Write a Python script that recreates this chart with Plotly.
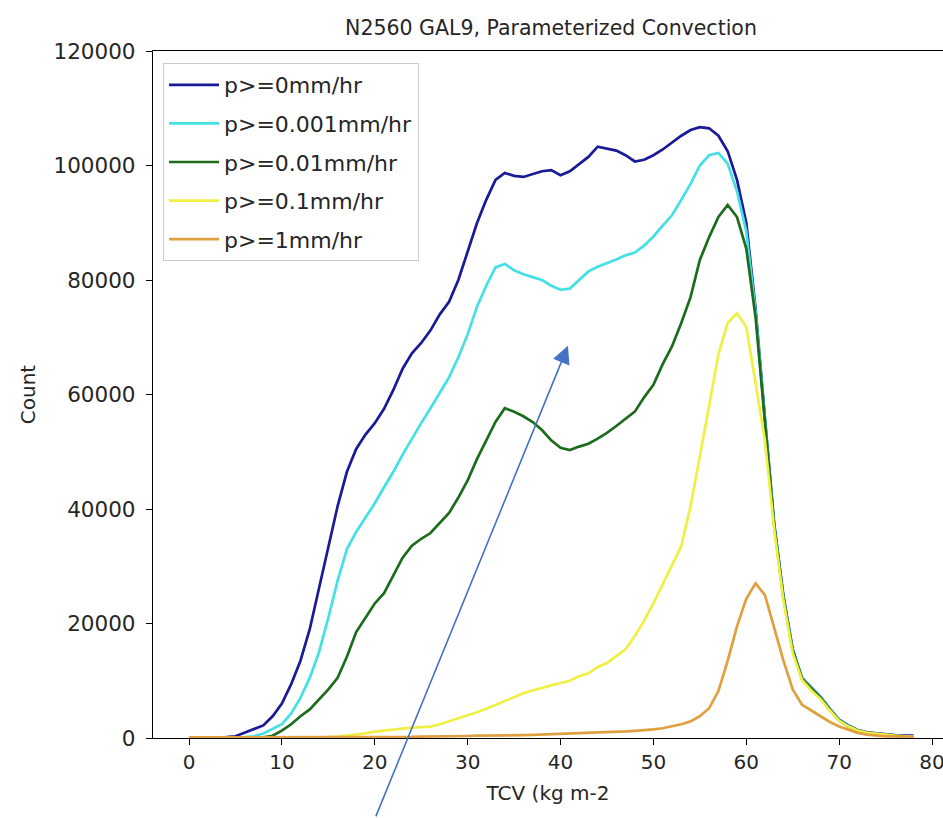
import plotly.graph_objects as go

tcv = [0, 1, 2, 3, 4, 5, 6, 7, 8, 9, 10, 11, 12, 13, 14, 15, 16, 17, 18, 19,
       20, 21, 22, 23, 24, 25, 26, 27, 28, 29, 30, 31, 32, 33, 34, 35, 36, 37, 38, 39,
       40, 41, 42, 43, 44, 45, 46, 47, 48, 49, 50, 51, 52, 53, 54, 55, 56, 57, 58, 59,
       60, 61, 62, 63, 64, 65, 66, 67, 68, 69, 70, 71, 72, 73, 74, 75, 76, 77, 78]

count_p0 = [100, 100, 100, 100, 150, 300, 900, 1600, 2200, 3800,
            6000, 9400, 13500, 19000, 26300, 33500, 40500, 46500, 50500, 53000,
            55000, 57500, 60800, 64500, 67200, 69000, 71200, 74000, 76200, 80000,
            85000, 89900, 94000, 97500, 98700, 98200, 98000, 98500, 99000, 99200,
            98300, 99000, 100200, 101500, 103300, 103000, 102600, 101800, 100700, 101000,
            101800, 102800, 104000, 105200, 106200, 106700, 106500, 105200, 102500, 97500,
            90000, 75000, 56000, 37500, 24800, 15500, 10500, 8800, 7200, 5100,
            3200, 2200, 1400, 1000, 800, 600, 500, 400, 400]

count_p0001 = [100, 100, 100, 100, 100, 100, 150, 300, 800, 1600,
               2400, 4300, 7000, 10500, 15000, 21000, 27500, 33000, 36000, 38500,
               41000, 43800, 46500, 49500, 52300, 55000, 57600, 60200, 63000, 66500,
               70500, 75300, 79000, 82200, 82800, 81700, 81000, 80500, 80000, 79000,
               78300, 78500, 80000, 81500, 82300, 82900, 83600, 84300, 84800, 86000,
               87600, 89500, 91300, 94000, 96800, 100000, 101800, 102200, 100300, 95500,
               88500, 74500, 55800, 37300, 24600, 15300, 10400, 8700, 7100, 5000,
               3100, 2100, 1300, 900, 700, 500, 400, 300, 300]

count_p001 = [100, 100, 100, 100, 100, 100, 100, 100, 100, 400,
              1300, 2400, 3800, 5000, 6800, 8500, 10500, 14200, 18500, 21000,
              23500, 25300, 28500, 31500, 33600, 34800, 35800, 37500, 39300, 42000,
              45000, 48700, 52000, 55200, 57600, 57000, 56200, 55200, 53800, 52000,
              50700, 50300, 50900, 51400, 52300, 53300, 54500, 55800, 57000, 59500,
              61700, 65300, 68400, 72500, 77000, 83500, 87500, 91000, 93100, 91000,
              85500, 73500, 55500, 37200, 24500, 15200, 10300, 8600, 7000, 4900,
              3000, 2000, 1300, 900, 700, 500, 400, 300, 300]

count_p01 = [100, 100, 100, 100, 100, 100, 100, 100, 100, 100,
             100, 100, 100, 100, 100, 150, 250, 400, 600, 800,
             1100, 1300, 1500, 1650, 1800, 1900, 2000, 2400, 2900, 3500,
             4000, 4500, 5100, 5800, 6500, 7200, 7800, 8300, 8800, 9200,
             9600, 10000, 10800, 11300, 12400, 13100, 14300, 15500, 17800, 20500,
             23500, 26800, 30000, 33500, 40500, 49000, 58000, 67000, 72500, 74200,
             71800, 62000, 52000, 36500, 24000, 14800, 10100, 8300, 6800, 4800,
             3000, 2000, 1300, 900, 700, 500, 400, 300, 300]

count_p1 = [100, 100, 100, 100, 100, 100, 100, 100, 100, 100,
            100, 100, 100, 100, 100, 100, 100, 100, 100, 100,
            150, 150, 200, 200, 200, 250, 250, 300, 300, 350,
            350, 400, 400, 450, 450, 500, 500, 550, 600, 650,
            700, 750, 800, 850, 900, 950, 1050, 1150, 1250, 1350,
            1500, 1700, 2000, 2400, 2900, 3800, 5200, 8200, 13500, 19500,
            24300, 27000, 25000, 19400, 13500, 8500, 5800, 4800, 3800, 2800,
            2000, 1400, 900, 600, 400, 300, 300, 250, 250]

series_names = ["p>=0mm/hr", "p>=0.001mm/hr", "p>=0.01mm/hr", "p>=0.1mm/hr", "p>=1mm/hr"]
series_values = [count_p0, count_p0001, count_p001, count_p01, count_p1]
series_colors = ["#1a1a98", "#44e0e6", "#1c6c1c", "#f0f044", "#e0a040"]

y_ticks = [0, 20000, 40000, 60000, 80000, 100000, 120000]
x_ticks = [0, 10, 20, 30, 40, 50, 60, 70, 80]

fig = go.Figure()
for i, (name, vals, col) in enumerate(zip(series_names, series_values, series_colors)):
    fig.add_trace(go.Scatter(
        x=tcv, y=vals, mode="lines", name=name,
        line=dict(color=col, width=2.7),
        legendgroup=f"g{i}",
    ))

font_family = "DejaVu Sans"
text_col = "#262626"

fig.update_layout(
    width=943, height=818,
    paper_bgcolor="white", plot_bgcolor="white",
    margin=dict(l=153, r=0, t=51, b=80),
    font=dict(family=font_family, size=20, color=text_col),
    title=dict(text="N2560 GAL9, Parameterized Convection",
               x=551 / 943, xref="container", xanchor="center",
               y=1 - 28 / 818, yref="container", yanchor="middle",
               font=dict(size=20.5, color=text_col)),
    showlegend=True,
    legend=dict(x=(163 - 153) / 790, y=(738 - 63) / 687, xanchor="left", yanchor="top",
                bgcolor="rgba(255,255,255,0.85)", bordercolor="#cccccc", borderwidth=1,
                font=dict(size=22, color=text_col), traceorder="grouped",
                tracegroupgap=7, itemwidth=50),
    xaxis=dict(range=[-3.876, 81.18], tickvals=x_ticks, ticks="outside", ticklen=6,
               tickwidth=1.3, tickcolor="black", showline=True, linecolor="black",
               linewidth=1.3, mirror=True, showgrid=False, zeroline=False,
               automargin=False, ticklabeloverflow="allow",
               tickfont=dict(size=20, color=text_col),
               title=dict(text="TCV (kg m-2", standoff=12, font=dict(size=20, color=text_col))),
    yaxis=dict(range=[0, 120000], tickvals=y_ticks, tickformat="d", ticks="outside",
               ticklen=6, tickwidth=1.3, tickcolor="black", showline=True,
               linecolor="black", linewidth=1.3, showgrid=False, zeroline=False,
               automargin=False, ticklabelstandoff=6,
               tickfont=dict(size=21.5, color=text_col),
               title=dict(text="Count", standoff=12, font=dict(size=20, color=text_col))),
)

fig.add_annotation(
    x=40.8, y=68500, xref="x", yref="y",
    ax=-192.7, ay=472, axref="pixel", ayref="pixel",
    text="", showarrow=True, arrowhead=2, arrowsize=2.2, arrowwidth=1.6,
    arrowcolor="#4472C4", standoff=0, startstandoff=0,
)

fig.write_html("out.html", config={"displayModeBar": False},
               post_script="document.body.style.margin='0px';document.body.style.overflow='hidden';")
